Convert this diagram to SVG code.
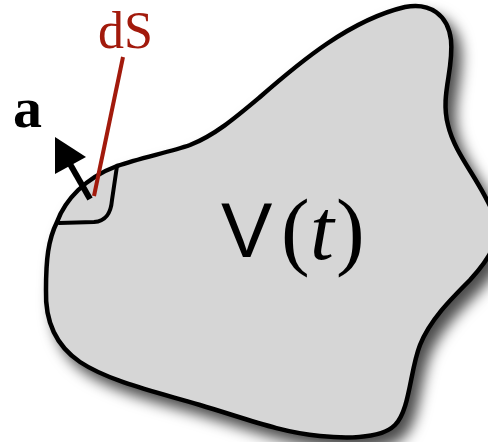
<svg xmlns="http://www.w3.org/2000/svg" width="488" height="442" viewBox="0 0 488 442">
  <defs>
    <filter id="shadow" x="-20%" y="-20%" width="140%" height="140%">
      <feDropShadow dx="8" dy="10" stdDeviation="7" flood-color="#000" flood-opacity="0.7"/>
    </filter>
    <style>
      .outline { fill: #d6d6d6; stroke: #000; stroke-width: 4.5; stroke-linejoin: round; }
      .thin { fill: none; stroke: #000; stroke-width: 4; stroke-linecap: round; }
      .red { stroke: #a21a0c; stroke-width: 4; fill: none; }
      .serif { font-family: "Liberation Serif", "Times New Roman", serif; }
    </style>
  </defs>
  <rect width="488" height="442" fill="#fff"/>
  <g id="volume">
    <path class="outline" filter="url(#shadow)" d="M 57,222 C 65,200 85,178 117,166 C 140,158 170,152 190,145 C 215,135 235,118 260,97 C 300,62 350,20 405,7 C 430,2 448,15 451,40 C 454,70 440,95 448,125 C 455,155 480,180 494,215 C 502,240 490,258 470,280 C 450,300 430,320 420,345 C 410,370 410,410 395,425 C 380,440 340,438 320,436 C 280,432 250,420 200,405 C 160,393 110,382 80,362 C 55,345 45,320 46,290 C 46,260 48,240 57,222 Z"/>
    <text x="221" y="257" font-family="Liberation Sans, Arial, sans-serif" font-size="77" fill="#000">V</text>
    <text y="259" class="serif" font-size="86" font-weight="300" fill="#000"><tspan x="281">(</tspan><tspan x="310" font-style="italic">t</tspan><tspan x="336">)</tspan></text>
  </g>
  <g id="patch">
    <path class="thin" d="M 59,223 L 94,222 C 107,221 111,212 112,200 L 117,166"/>
  </g>
  <g id="connectors">
    <line class="red" x1="123" y1="57" x2="94" y2="196"/>
    <line x1="90" y1="199" x2="70" y2="164" stroke="#000" stroke-width="6"/>
    <polygon points="55,137 55,174 86,157" fill="#000"/>
  </g>
  <g id="labels">
    <text x="98" y="48" class="serif" font-size="52" fill="#a21a0c">dS</text>
    <text x="13" y="127" class="serif" font-size="58" font-weight="bold" fill="#000">a</text>
  </g>
</svg>
